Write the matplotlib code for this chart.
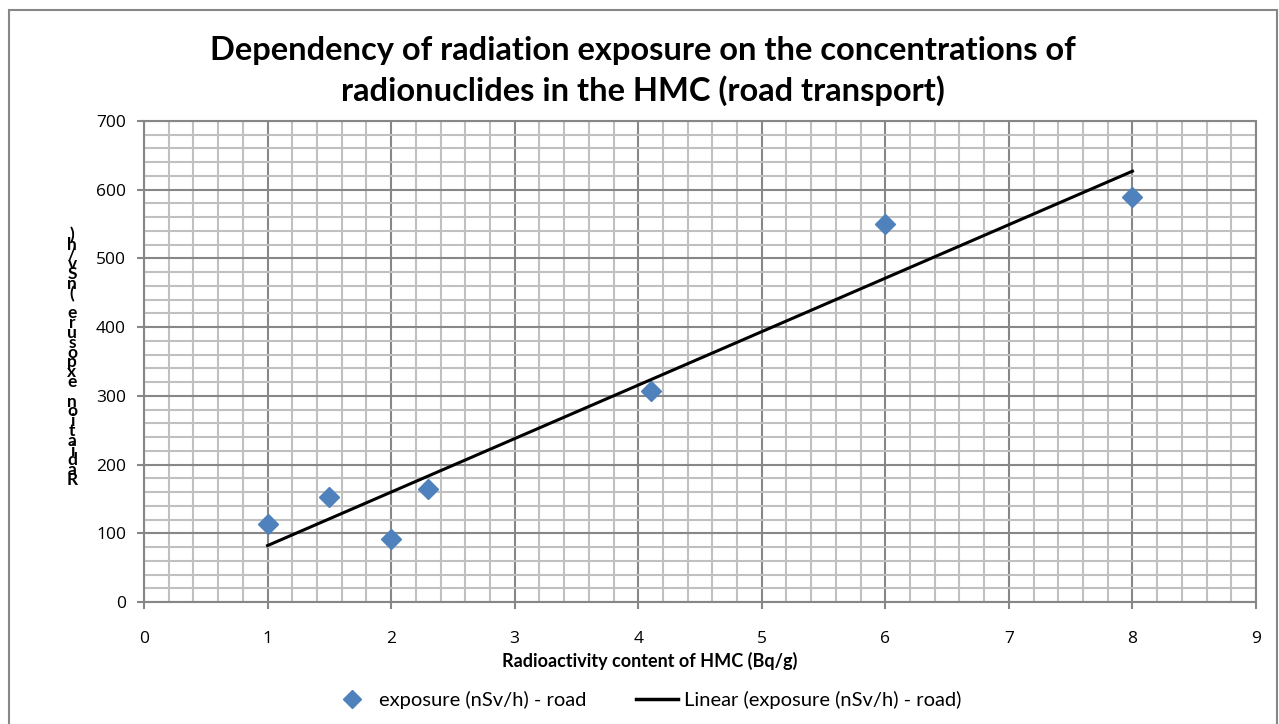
import numpy as np
import matplotlib
matplotlib.use("Agg")
import matplotlib.pyplot as plt
from matplotlib.lines import Line2D
from matplotlib.patches import Rectangle
from matplotlib.ticker import MultipleLocator

# data
activity = [1, 1.5, 2, 2.3, 4.1, 6, 8]
exposure = [113, 153, 92, 164, 307, 550, 589]

title = "Dependency of radiation exposure on the concentrations of\nradionuclides in the HMC (road transport)"
x_label = "Radioactivity content of HMC (Bq/g)"
y_label = "Radiation exposure (nSv/h)"
series_name = "exposure (nSv/h) - road"
trend_name = "Linear (exposure (nSv/h) - road)"

blue = "#4F81BD"
major_grey = "#878787"
minor_grey = "#C0C0C0"

fig = plt.figure(figsize=(12.79, 7.24), dpi=100)
ax = fig.add_axes([144 / 1279, 1 - 602 / 724, (1256 - 144) / 1279, (602 - 121) / 724])

# outer chart border
fig.patches.append(Rectangle((9 / 1279, -0.01), (1277 - 9) / 1279, 1 - 10 / 724 + 0.01,
                             transform=fig.transFigure, fill=False,
                             edgecolor=major_grey, linewidth=1.5))

ax.set_xlim(0, 9)
ax.set_ylim(0, 700)
ax.xaxis.set_major_locator(MultipleLocator(1))
ax.xaxis.set_minor_locator(MultipleLocator(0.2))
ax.yaxis.set_major_locator(MultipleLocator(100))
ax.yaxis.set_minor_locator(MultipleLocator(20))
ax.grid(which="minor", color=minor_grey, linewidth=1.5, zorder=0)
ax.grid(which="major", color=major_grey, linewidth=1.5, zorder=0)
ax.set_axisbelow(True)

for s in ax.spines.values():
    s.set_color(major_grey)
    s.set_linewidth(1.5)

ax.tick_params(which="major", direction="out", length=5, width=1.5, color=major_grey,
               labelsize=12.5)
ax.tick_params(axis="y", pad=8)
ax.tick_params(axis="x", pad=16)
ax.tick_params(which="minor", length=0)
for lab in ax.get_xticklabels() + ax.get_yticklabels():
    lab.set_fontfamily("Open Sans")

# scatter points
ax.plot(activity, exposure, linestyle="none", marker="D", markersize=10.5,
        color=blue, zorder=3)

# linear trend line
slope, intercept = np.polyfit(activity, exposure, 1)
xs = np.array([min(activity), max(activity)])
ax.plot(xs, slope * xs + intercept, color="black", linewidth=2.2, zorder=4)

fig.text(643 / 1279, 1 - 71 / 724, title, ha="center", va="center",
         fontsize=23.5, fontweight="bold", family="Lato", linespacing=1.4)

fig.text(650 / 1279, 1 - 661 / 724, x_label, ha="center", va="center",
         fontsize=13, fontweight="bold", family="Lato")

# garbled vertical y label: upright characters stacked bottom-up
for i, ch in enumerate(y_label):
    fig.text(72 / 1279, 1 - (480 - i * 9.8) / 724, ch, ha="center", va="center",
             fontsize=12.5, fontweight="bold", family="Lato")

handles = [
    Line2D([], [], linestyle="none", marker="D", markersize=9.5, color=blue),
    Line2D([], [], color="black", linewidth=2.5),
]
fig.legend(handles, [series_name, trend_name], loc="center",
           bbox_to_anchor=(646 / 1279, 1 - 700 / 724), ncol=2, frameon=False,
           prop={"family": "Lato", "size": 14.5}, handlelength=2.1,
           columnspacing=2.45, handletextpad=0.3)

fig.savefig("out.png", dpi=100)
